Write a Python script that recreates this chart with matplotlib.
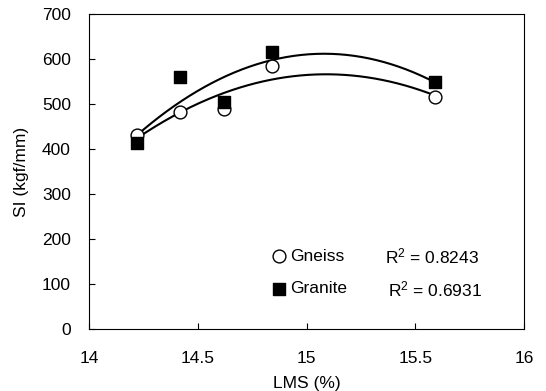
import numpy as np
import matplotlib
matplotlib.use("Agg")
import matplotlib.pyplot as plt

plt.rcParams['font.family'] = ['Liberation Sans', 'DejaVu Sans']
plt.rcParams['mathtext.fontset'] = 'custom'
plt.rcParams['mathtext.rm'] = 'Liberation Sans'
plt.rcParams['mathtext.it'] = 'Liberation Sans:italic'

lms = [14.22, 14.42, 14.62, 14.84, 15.59]
gneiss = [432, 483, 488, 584, 516]
granite = [413, 559, 505, 616, 548]
r2_gneiss = "0.8243"
r2_granite = "0.6931"
xticks = [14, 14.5, 15, 15.5, 16]
yticks = [0, 100, 200, 300, 400, 500, 600, 700]

FS = 12.5

fig = plt.figure(figsize=(5.46, 3.91), dpi=100)
ax = fig.add_axes([89/546, 1-329/391, (524-89)/546, (329-14)/391])

xs = np.linspace(min(lms), max(lms), 200)
for y in (gneiss, granite):
    c = np.polyfit(lms, y, 2)
    ax.plot(xs, np.polyval(c, xs), color='black', lw=1.5, zorder=2)

ax.scatter(lms, gneiss, s=85, facecolor='white', edgecolor='black', linewidths=1.0, zorder=3)
ax.scatter(lms, granite, s=65, marker='s', color='black', zorder=4)

ax.set_xlim(14, 16)
ax.set_ylim(0, 700)
ax.set_xticks(xticks)
ax.set_xticklabels([f"{t:g}" for t in xticks])
ax.set_yticks(yticks)
ax.tick_params(direction='in', length=4, labelsize=FS)
ax.tick_params(axis='y', pad=13)
ax.tick_params(axis='x', pad=16)
for s in ax.spines.values():
    s.set_linewidth(0.8)
ax.set_xlabel("LMS (%)", fontsize=FS, labelpad=7)
ax.set_ylabel("SI (kgf/mm)", fontsize=FS, labelpad=9)

# legend-like annotations
ax.scatter([14.874], [162], s=85, facecolor='white', edgecolor='black', linewidths=1.0, clip_on=False)
ax.text(14.925, 162, "Gneiss", fontsize=FS, va='center')
ax.scatter([14.874], [89], s=65, marker='s', color='black', clip_on=False)
ax.text(14.925, 89, "Granite", fontsize=FS, va='center')
ax.text(15.36, 162, r"R$^2$ = " + r2_gneiss, fontsize=FS, va='center')
ax.text(15.375, 89, r"R$^2$ = " + r2_granite, fontsize=FS, va='center')

fig.savefig("out.png", dpi=100)
